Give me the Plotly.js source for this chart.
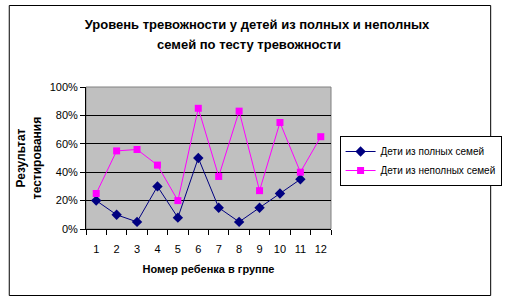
<!DOCTYPE html>
<html>
<head>
<meta charset="utf-8">
<script src="https://cdn.plot.ly/plotly-3.0.1.min.js"></script>
<style>
html,body{margin:0;padding:0;background:#fff;}
#chart{width:514px;height:299px;}
</style>
</head>
<body>
<div id="chart"></div>
<script>
const childNumbers = ['1','2','3','4','5','6','7','8','9','10','11','12'];
const fullFamilies = [0.20, 0.10, 0.05, 0.30, 0.08, 0.50, 0.15, 0.05, 0.15, 0.25, 0.35, null];
const incompleteFamilies = [0.25, 0.55, 0.56, 0.45, 0.20, 0.85, 0.37, 0.83, 0.27, 0.75, 0.40, 0.65];
const seriesNames = ['Дети из полных семей', 'Дети из неполных семей'];
const yTickVals = [0, 0.2, 0.4, 0.6, 0.8, 1.0];
const yTickText = ['0%', '20%', '40%', '60%', '80%', '100%'];
const titleLines = ['Уровень тревожности у детей из полных и неполных', 'семей по тесту тревожности'];

const FONT = 'Arial, "Liberation Sans", sans-serif';

const traces = [
  {
    x: childNumbers, y: fullFamilies, name: seriesNames[0],
    type: 'scatter', mode: 'lines+markers',
    line: {color: '#000080', width: 1},
    marker: {symbol: 'diamond', size: 8, color: '#000080'}
  },
  {
    x: childNumbers, y: incompleteFamilies, name: seriesNames[1],
    type: 'scatter', mode: 'lines+markers',
    line: {color: '#FF00FF', width: 1},
    marker: {symbol: 'square', size: 7, color: '#FF00FF'}
  }
];

const L = 86, R = 343, T = 87, B = 229, W = 514, H = 299;
const px = v => (v - L) / (R - L);
const py = v => (B - v) / (B - T);

const layout = {
  width: W, height: H,
  margin: {l: L, r: W - R, t: T, b: H - B, pad: 0},
  paper_bgcolor: '#ffffff',
  plot_bgcolor: '#C0C0C0',
  font: {family: FONT, size: 11, color: '#000'},
  showlegend: true,
  title: {
    text: '<b>' + titleLines[0] + '</b>',
    font: {family: FONT, size: 13, color: '#000'},
    x: 0.5, xanchor: 'center', xref: 'container',
    y: 1 - 24 / H, yanchor: 'middle', yref: 'container'
  },
  annotations: [
    {text: '<b>' + titleLines[1] + '</b>', xref: 'paper', yref: 'paper',
     x: px(257), y: py(45), xanchor: 'center', yanchor: 'middle', showarrow: false,
     font: {family: FONT, size: 13, color: '#000'}}
  ],
  xaxis: {
    type: 'category',
    range: [-0.5, 11.5],
    tickson: 'boundaries',
    tickangle: 0,
    ticks: 'outside', ticklen: 5, tickcolor: '#000', tickwidth: 1,
    ticklabelstandoff: 10,
    showline: true, linecolor: '#000', linewidth: 1,
    showgrid: false, zeroline: false,
    tickfont: {family: FONT, size: 11},
    title: {text: '<b>Номер ребенка в группе</b>', font: {family: FONT, size: 11}, standoff: 11}
  },
  yaxis: {
    range: [0, 1],
    tickvals: yTickVals, ticktext: yTickText,
    ticks: 'outside', ticklen: 5, tickcolor: '#000', tickwidth: 1,
    showline: true, linecolor: '#000', linewidth: 1,
    showgrid: true, gridcolor: '#000', gridwidth: 1,
    zeroline: false,
    tickfont: {family: FONT, size: 11},
    title: {text: '<b>Результат<br>тестирования</b>', font: {family: FONT, size: 12}, standoff: 5}
  },
  legend: {
    x: px(352), xanchor: 'left', y: py(136), yanchor: 'top',
    bordercolor: '#000', borderwidth: 1, bgcolor: '#fff',
    font: {family: FONT, size: 10},
    itemwidth: 30
  },
  shapes: [
    {type: 'rect', xref: 'paper', yref: 'paper', x0: 0, x1: 1, y0: 0, y1: 1,
     line: {color: '#808080', width: 1}, fillcolor: 'rgba(0,0,0,0)', layer: 'below'},
    {type: 'rect', xref: 'paper', yref: 'paper', x0: px(5.5), x1: px(510.5), y0: py(295.5), y1: py(5.5),
     line: {color: '#000', width: 1}, fillcolor: 'rgba(0,0,0,0)', layer: 'above'}
  ]
};

Plotly.newPlot('chart', traces, layout, {displayModeBar: false, staticPlot: true});
</script>
</body>
</html>
